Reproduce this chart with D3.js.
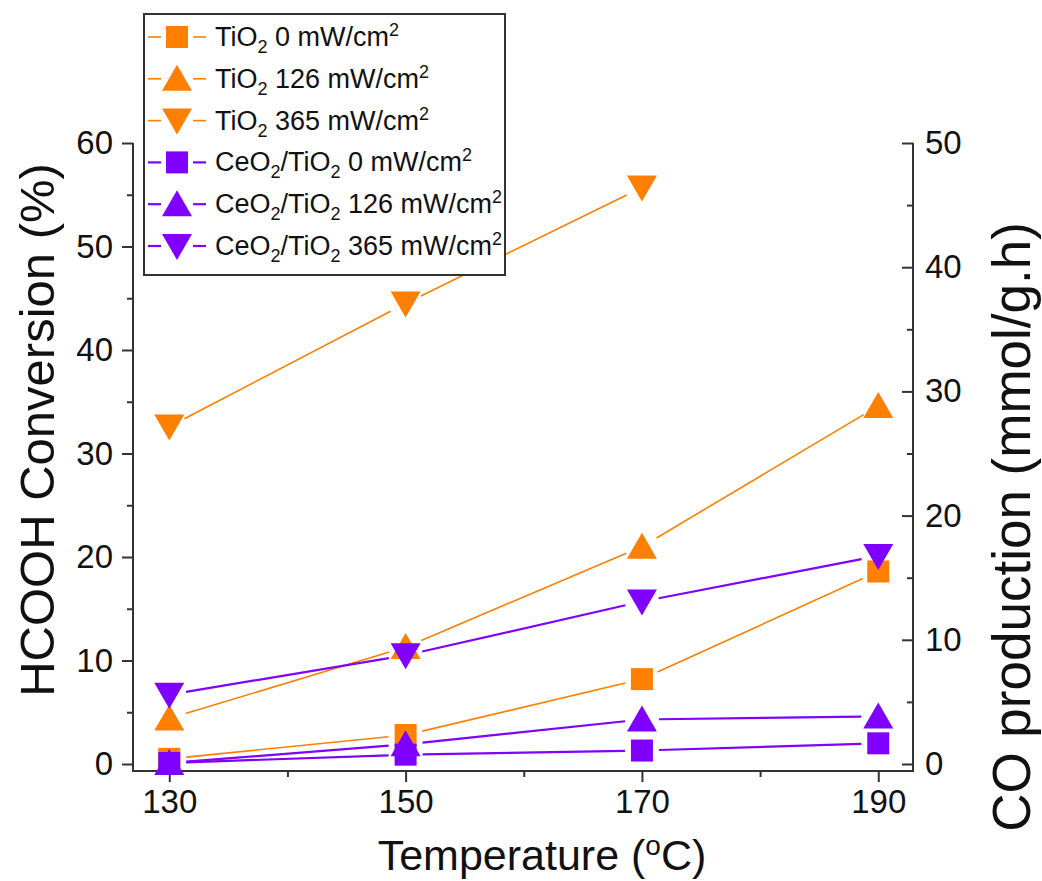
<!DOCTYPE html>
<html>
<head>
<meta charset="utf-8">
<script src="https://d3js.org/d3.v7.min.js"></script>
<style>
  body { margin: 0; background: #fff; }
  svg text { font-family: "Liberation Sans", Arial, sans-serif; fill: #111; }
</style>
</head>
<body>
<div id="chart"></div>
<script>
// data
var temps = [130, 150, 170, 190];
var tio2_0   = [0.5, 2.8, 8.2, 18.6];
var tio2_126 = [4.4, 11.3, 21.0, 34.6];
var tio2_365 = [32.6, 44.5, 55.7, null];
var ceo2_0   = [0.1, 0.9, 1.3, 2.0];
var ceo2_126 = [0.1, 1.9, 4.3, 4.6];
var ceo2_365 = [6.7, 10.5, 15.7, 20.1];

var xTicks = [130, 150, 170, 190];
var xMinor = [140, 160, 180];
var leftTicks = [0, 10, 20, 30, 40, 50, 60];
var leftMinor = [5, 15, 25, 35, 45, 55];
var rightTicks = [0, 10, 20, 30, 40, 50];
var rightMinor = [5, 15, 25, 35, 45];

var orange = "#ff7f00", purple = "#7f00ff";

var series = [
  {mat: "TiO", power: "0",   vals: tio2_0,   color: orange, shape: "square", lw: 1.6},
  {mat: "TiO", power: "126", vals: tio2_126, color: orange, shape: "up",     lw: 1.6},
  {mat: "TiO", power: "365", vals: tio2_365, color: orange, shape: "down",   lw: 1.6},
  {mat: "CeO", power: "0",   vals: ceo2_0,   color: purple, shape: "square", lw: 2.2},
  {mat: "CeO", power: "126", vals: ceo2_126, color: purple, shape: "up",     lw: 2.2},
  {mat: "CeO", power: "365", vals: ceo2_365, color: purple, shape: "down",   lw: 2.2}
];

var W = 1042, H = 881;
var plotL = 133, plotR = 913, plotT = 143, axisY = 771, zeroY = 764;

var svg = d3.select("#chart").append("svg")
    .attr("width", W)
    .attr("height", H);

var x = d3.scaleLinear().domain([126.93, 192.94]).range([plotL, plotR]);
var yL = d3.scaleLinear().domain([0, 60]).range([zeroY, plotT]);
var yR = d3.scaleLinear().domain([0, 50]).range([zeroY, plotT]);

function marker(shape) {
  if (shape === "square") return "M-11,-11H11V11H-11Z";
  if (shape === "up") return "M0,-14L15,12H-15Z";
  return "M0,14L15,-12H-15Z";
}

// axes
function styleAxis(g, fs) {
  g.select(".domain").remove();
  g.selectAll(".tick line").attr("stroke", "#333").attr("stroke-width", 2);
  g.selectAll(".tick text").style("font-size", fs + "px").attr("fill", "#111");
}

var gx = svg.append("g").attr("transform", "translate(0," + axisY + ")");
gx.call(d3.axisBottom(x).tickValues(xTicks).tickSize(11).tickPadding(8).tickFormat(d3.format("d")));
styleAxis(gx, 33);
var gxm = svg.append("g").attr("transform", "translate(0," + axisY + ")");
gxm.call(d3.axisBottom(x).tickValues(xMinor).tickSize(6).tickFormat(""));
styleAxis(gxm, 33);

var gl = svg.append("g").attr("transform", "translate(" + plotL + ",0)");
gl.call(d3.axisLeft(yL).tickValues(leftTicks).tickSize(11).tickPadding(9));
styleAxis(gl, 33);
var glm = svg.append("g").attr("transform", "translate(" + plotL + ",0)");
glm.call(d3.axisLeft(yL).tickValues(leftMinor).tickSize(6).tickFormat(""));
styleAxis(glm, 33);

var gr = svg.append("g").attr("transform", "translate(" + plotR + ",0)");
gr.call(d3.axisRight(yR).tickValues(rightTicks).tickSize(-11).tickPadding(12));
styleAxis(gr, 33);
var grm = svg.append("g").attr("transform", "translate(" + plotR + ",0)");
grm.call(d3.axisRight(yR).tickValues(rightMinor).tickSize(-6).tickFormat(""));
styleAxis(grm, 33);

// axis lines
svg.append("path")
  .attr("d", "M" + plotL + "," + plotT + "V" + axisY + "H" + plotR + "V" + plotT)
  .attr("fill", "none").attr("stroke", "#333").attr("stroke-width", 2);

// series: lines with gaps around markers, then markers
var gap = 17;
series.forEach(function (s) {
  var pts = [];
  s.vals.forEach(function (v, i) {
    if (v !== null) pts.push([x(temps[i]), yL(v)]);
  });
  var g = svg.append("g");
  for (var i = 0; i < pts.length - 1; i++) {
    var a = pts[i], b = pts[i + 1];
    var dx = b[0] - a[0], dy = b[1] - a[1], len = Math.sqrt(dx * dx + dy * dy);
    var ux = dx / len, uy = dy / len;
    g.append("line")
      .attr("x1", a[0] + ux * gap).attr("y1", a[1] + uy * gap)
      .attr("x2", b[0] - ux * gap).attr("y2", b[1] - uy * gap)
      .attr("stroke", s.color).attr("stroke-width", s.lw);
  }
  g.selectAll("path")
    .data(pts)
    .enter()
    .append("path")
      .attr("d", marker(s.shape))
      .attr("transform", function (d) { return "translate(" + d[0] + "," + d[1] + ")"; })
      .attr("fill", s.color);
});

// legend
var lg = svg.append("g");
lg.append("rect")
  .attr("x", 144).attr("y", 14).attr("width", 361).attr("height", 261)
  .attr("fill", "#fff").attr("stroke", "#333").attr("stroke-width", 2);

series.forEach(function (s, i) {
  var cy = 37 + i * 41.8;
  var row = lg.append("g").attr("transform", "translate(0," + cy + ")");
  row.append("line").attr("x1", 148).attr("x2", 161).attr("y1", 0).attr("y2", 0)
    .attr("stroke", s.color).attr("stroke-width", s.lw);
  row.append("line").attr("x1", 193).attr("x2", 206).attr("y1", 0).attr("y2", 0)
    .attr("stroke", s.color).attr("stroke-width", s.lw);
  row.append("path").attr("d", marker(s.shape))
    .attr("transform", "translate(177,0)").attr("fill", s.color);
  var t = row.append("text").attr("x", 215).attr("y", 9).style("font-size", "27px");
  if (s.mat === "CeO") {
    t.append("tspan").text("CeO");
    t.append("tspan").attr("dy", 7).style("font-size", "18px").text("2");
    t.append("tspan").attr("dy", -7).text("/TiO");
  } else {
    t.append("tspan").text("TiO");
  }
  t.append("tspan").attr("dy", 7).style("font-size", "18px").text("2");
  t.append("tspan").attr("dy", -7).text(" " + s.power + " mW/cm");
  t.append("tspan").attr("dy", -10).style("font-size", "18px").text("2");
});

// axis titles
var xt = svg.append("text")
  .attr("x", 542).attr("y", 870)
  .attr("text-anchor", "middle")
  .style("font-size", "43px");
xt.append("tspan").text("Temperature (");
xt.append("tspan").attr("dy", -15).style("font-size", "28px").text("o");
xt.append("tspan").attr("dy", 15).text("C)");

svg.append("text")
  .attr("transform", "translate(54,430) rotate(-90)")
  .attr("text-anchor", "middle")
  .style("font-size", "49px")
  .text("HCOOH Conversion (%)");

svg.append("text")
  .attr("transform", "translate(1030,527) rotate(-90)")
  .attr("text-anchor", "middle")
  .style("font-size", "53px")
  .text("CO production (mmol/g.h)");
</script>
</body>
</html>
